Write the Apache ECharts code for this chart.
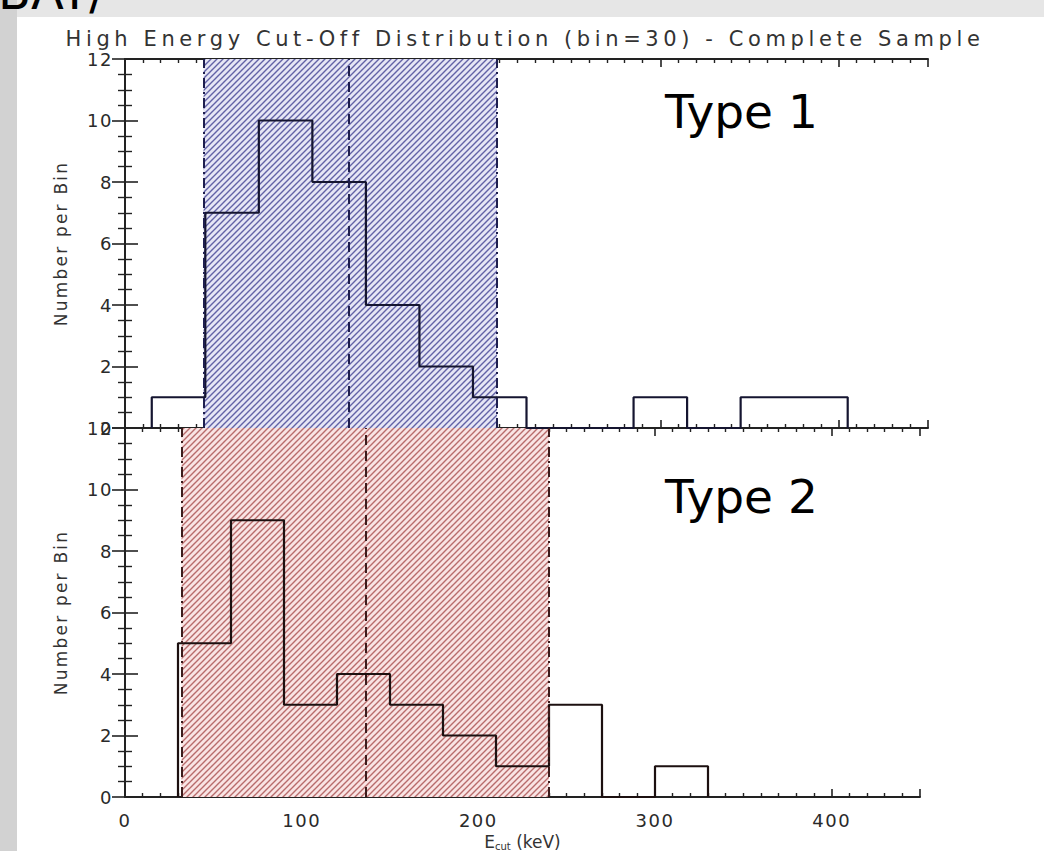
<!DOCTYPE html>
<html><head><meta charset="utf-8">
<script src="https://cdn.jsdelivr.net/npm/echarts@6/dist/echarts.min.js"></script>
<style>html,body{margin:0;padding:0;background:#fff}#chart{width:1044px;height:851px}</style>
</head><body><div id="chart"></div>
<script>
// ---- data ----
const xTickLabels = [0, 100, 200, 300, 400];
const yTickLabels = [0, 2, 4, 6, 8, 10, 12];
const binWidth = 30;
const type1BinStart = 15;
const type1Counts = [1, 7, 10, 8, 4, 2, 1, 0, 0, 1, 0, 1, 1];
const type2BinStart = 30;
const type2Counts = [5, 9, 3, 4, 3, 2, 1, 3, 0, 1];
const type1Range = [44, 208.5];
const type1Median = 125.5;
const type2Range = [32, 240];
const type2Median = 136;
const titleText = 'High Energy Cut-Off Distribution (bin=30) - Complete Sample';
const yName = 'Number per Bin';
const panelLabels = ['Type 1', 'Type 2'];

function stepPoints(start, counts) {
  const pts = [[start, 0]];
  counts.forEach((c, i) => { pts.push([start + i * binWidth, c]); pts.push([start + (i + 1) * binWidth, c]); });
  pts.push([start + counts.length * binWidth, 0]);
  return pts;
}
function hatch(bg, fg) {
  const s = 6, c = document.createElement('canvas'); c.width = c.height = s;
  const x = c.getContext('2d');
  x.fillStyle = bg; x.fillRect(0, 0, s, s);
  x.strokeStyle = fg; x.lineWidth = 1.4; x.beginPath();
  x.moveTo(-1, s + 1); x.lineTo(s + 1, -1);
  x.moveTo(-1, 1); x.lineTo(1, -1);
  x.moveTo(s - 1, s + 1); x.lineTo(s + 1, s - 1);
  x.stroke();
  return { image: c.toDataURL(), repeat: 'repeat', imageWidth: s, imageHeight: s };
}

const axisCol = '#222';
const FONT = 'DejaVu Sans';
const grids = [
  { left: 125, top: 59, width: 803, height: 369, outerBoundsMode: 'none', containLabel: false },
  { left: 125, top: 428, width: 795, height: 369, outerBoundsMode: 'none', containLabel: false }
];
const xAxes = [], yAxes = [];
grids.forEach((g, i) => {
  ['bottom', 'top'].forEach(pos => {
    const main = pos === 'bottom' && i === 1;
    xAxes.push({
      type: 'value', gridIndex: i, position: pos, min: 0, max: 450, interval: 100,
      axisLine: { show: true, onZero: false, lineStyle: { color: axisCol, width: 2 } },
      axisTick: { show: true, inside: true, length: 8, lineStyle: { color: axisCol, width: 1.6 } },
      minorTick: { show: true, splitNumber: 10, length: 4, lineStyle: { color: axisCol, width: 1.4 } },
      splitLine: { show: false }, minorSplitLine: { show: false },
      axisLabel: { show: main, color: '#2a2a2a', fontFamily: FONT, fontSize: 18, margin: 14,
        formatter: v => (xTickLabels.includes(v) ? String(v) : '') },
      name: main ? '{e|E}{s|cut}{e| (keV)}' : '', nameLocation: 'middle', nameGap: 36,
      nameTextStyle: { color: '#333', fontFamily: FONT, fontSize: 17,
        rich: { e: { fontSize: 17, fontFamily: FONT, color: '#333' },
                s: { fontSize: 10, fontFamily: FONT, color: '#333', padding: [8, 0, 0, 0] } } }
    });
  });
  ['left', 'right'].forEach(pos => {
    const main = pos === 'left';
    yAxes.push({
      type: 'value', gridIndex: i, position: pos, min: 0, max: 12, interval: 2,
      axisLine: { show: true, lineStyle: { color: axisCol, width: 2 } },
      axisTick: { show: true, inside: true, length: 13, lineStyle: { color: axisCol, width: 1.6 } },
      minorTick: { show: true, splitNumber: 4, length: 7, lineStyle: { color: axisCol, width: 1.4 } },
      splitLine: { show: false }, minorSplitLine: { show: false },
      axisLabel: { show: main, color: '#2a2a2a', fontFamily: FONT, fontSize: 18, margin: 12,
        formatter: v => (yTickLabels.includes(v) ? String(v) : '') },
      name: main ? yName : '', nameLocation: 'middle', nameGap: 56, nameRotate: 90,
      nameTextStyle: { color: '#333', fontFamily: FONT, fontSize: 17 }
    });
  });
});

function histSeries(i, start, counts, range, median, bg, fg, lineCol, stepCol) {
  return {
    type: 'line', xAxisIndex: i * 2, yAxisIndex: i * 2, data: stepPoints(start, counts),
    symbol: 'none', silent: true, z: 3,
    lineStyle: { color: stepCol, width: 2.2 },
    markArea: { silent: true, z: 1, itemStyle: { color: hatch(bg, fg) },
      data: [[{ xAxis: range[0] }, { xAxis: range[1] }]] },
    markLine: { silent: true, symbol: 'none', label: { show: false }, z: 4,
      data: [
        { xAxis: range[0], lineStyle: { color: lineCol, width: 2, type: [10, 4, 2, 4] } },
        { xAxis: range[1], lineStyle: { color: lineCol, width: 2, type: [10, 4, 2, 4] } },
        { xAxis: median, lineStyle: { color: lineCol, width: 2, type: [10, 6] } }
      ] }
  };
}

const chart = echarts.init(document.getElementById('chart'), null, { renderer: 'svg' });
chart.setOption({
  animation: false,
  backgroundColor: '#fff',
  grid: grids,
  xAxis: xAxes,
  yAxis: yAxes,
  graphic: [
    { type: 'rect', shape: { x: 0, y: 0, width: 1044, height: 17 }, style: { fill: '#e6e6e6' }, z: -10, silent: true },
    { type: 'rect', shape: { x: 0, y: 0, width: 17, height: 851 }, style: { fill: '#d2d2d2' }, z: -9, silent: true },
    { type: 'text', x: -2, y: 16, silent: true, style: { text: 'BAT/', fontFamily: FONT, fontSize: 48, fill: '#000', verticalAlign: 'bottom' } },
    { type: 'text', x: 525, y: 39, silent: true, style: { text: titleText, fontFamily: FONT, fontSize: 21, fill: '#333', align: 'center', verticalAlign: 'middle' } },
    { type: 'text', x: 665, y: 111, silent: true, style: { text: panelLabels[0], fontFamily: FONT, fontSize: 47, fill: '#000', verticalAlign: 'middle' } },
    { type: 'text', x: 665, y: 496, silent: true, style: { text: panelLabels[1], fontFamily: FONT, fontSize: 47, fill: '#000', verticalAlign: 'middle' } }
  ],
  series: [
    histSeries(0, type1BinStart, type1Counts, type1Range, type1Median, '#e6e6f5', '#6262a6', '#1e1e4e', '#151530'),
    histSeries(1, type2BinStart, type2Counts, type2Range, type2Median, '#f9e4e4', '#b86c6c', '#3c1c1c', '#1c1010')
  ]
});

function spacing() {
  document.querySelectorAll('#chart text').forEach(t => {
    const s = t.textContent;
    if (s.startsWith('High Energy')) t.style.letterSpacing = '4.6px';
    else if (s === yName) t.style.letterSpacing = '2.2px';
    else if (/^\d+$/.test(s)) t.style.letterSpacing = '1.5px';
  });
}
spacing();
chart.on('finished', spacing);
setTimeout(spacing, 50);
</script></body></html>
